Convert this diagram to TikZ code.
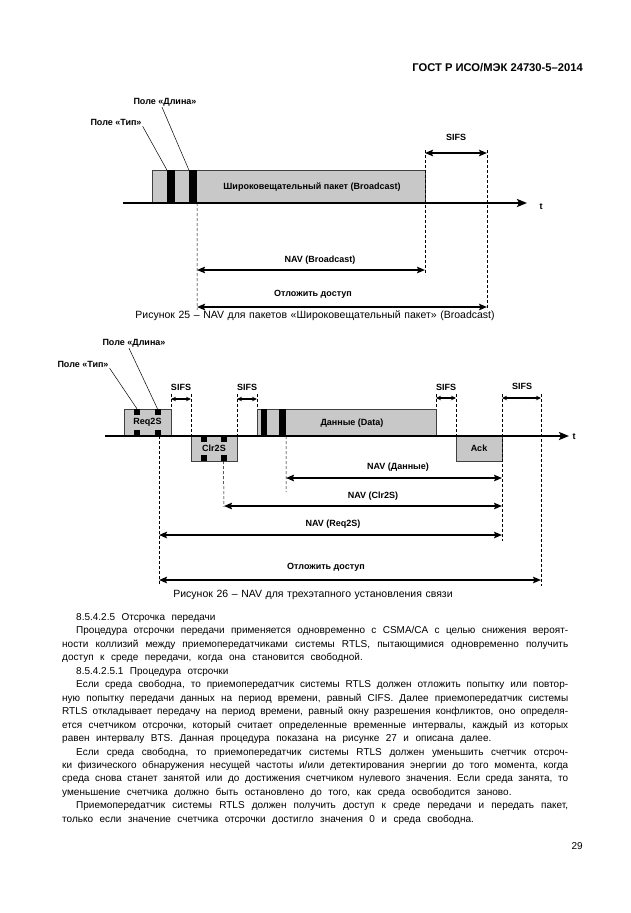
\documentclass[tikz,border=0pt]{standalone}
\usepackage{fontspec}
\setmainfont{Liberation Sans}
\usetikzlibrary{arrows.meta,positioning,calc}
\definecolor{pktgray}{RGB}{200,200,200}
\newcommand{\jline}[2]{\makebox[#1][s]{#2}}
\newcommand{\bodyfont}{\fontsize{10}{13}\selectfont\spaceskip=6.5pt plus 3pt minus 3.3pt\xspaceskip=6.5pt plus 3pt minus 3.3pt\relax}
\newcommand{\capfont}{\fontsize{10.5}{12}\selectfont\spaceskip=3.6pt plus 2pt minus 1pt\relax}

\begin{document}
\begin{tikzpicture}[x=1pt,y=-1pt,
    pkt/.style={draw=black!75, fill=pktgray, inner sep=0pt},
    fld/.style={fill=black, inner sep=0pt},
    lbl/.style={font=\bfseries\fontsize{9}{10}\selectfont, inner sep=1pt},
    axisline/.style={line width=2.2pt, -{Stealth[length=10pt,width=8pt,inset=2pt]}},
    navarrow/.style={line width=1.8pt, {Stealth[length=8pt,width=6.5pt,inset=1.5pt]}-{Stealth[length=8pt,width=6.5pt,inset=1.5pt]}},
    sifsarrow/.style={line width=1.1pt, {Stealth[length=5pt,width=4.5pt]}-{Stealth[length=5pt,width=4.5pt]}},
    guide/.style={dash pattern=on 3pt off 2pt, line width=0.5pt},
    leader/.style={line width=0.5pt},
    caption/.style={font=\capfont, inner sep=0pt},
    bodytext/.style={anchor=base west, inner sep=0pt, font=\bodyfont}]
    \fill[white] (0,0) rectangle (630,913);
    \useasboundingbox (0,0) rectangle (630,913);
    % Header
    \node[anchor=base east, inner sep=0pt, font=\bfseries\fontsize{11.2}{13}\selectfont] (hdr) at (583,71) {ГОСТ Р ИСО/МЭК 24730-5–2014};

    % Figure 25: broadcast packet
    \node[pkt, minimum width=273pt, minimum height=33pt] (bcast) at (288.5,186.5) {};
    \node[fld, minimum width=8pt, minimum height=33pt] (bc-type) at (171,186.5) {};
    \node[fld, minimum width=8pt, minimum height=33pt] (bc-len) at (193,186.5) {};
    \node[lbl] (bcast-txt) at (312,187) {Широковещательный пакет (Broadcast)};
    \coordinate (ax1-s) at (123,203);
    \coordinate (ax1-e) at (527,203);
    \draw[axisline] (ax1-s) -- (ax1-e);
    \node[lbl] (t1) at (541,207) {t};
    % Field labels
    \node[lbl] (len1) at (165,102) {Поле «Длина»};
    \node[lbl] (type1) at (116,122) {Поле «Тип»};
    \draw[leader] (type1.south east) -- (bc-type.north west);
    \draw[leader] ($(len1.south)-(3,0)$) -- (bc-len.north west);
    % Guides
    \coordinate (g1a) at (197,310);
    \coordinate (g1b-top) at (425,150);
    \coordinate (g1b) at (425,275);
    \coordinate (g1c-top) at (487,150);
    \coordinate (g1c) at (487,310);
    \draw[guide] (bc-len.south east) -- (g1a);
    \draw[guide] (g1b-top) -- (g1b);
    \draw[guide] (g1c-top) -- (g1c);
    % Intervals
    \coordinate (s1-l) at (425,153);
    \coordinate (s1-r) at (487,153);
    \draw[navarrow] (s1-l) -- (s1-r);
    \node[lbl] (sifs1) at (456,137) {SIFS};
    \coordinate (nb-l) at (197,270);
    \coordinate (nb-r) at (425,270);
    \draw[navarrow] (nb-l) -- (nb-r);
    \node[lbl] (nav-bc) at (320,260) {NAV (Broadcast)};
    \coordinate (db-l) at (197,307);
    \coordinate (db-r) at (487,307);
    \draw[navarrow] (db-l) -- (db-r);
    \node[lbl] (defer1) at (313,294) {Отложить доступ};
    \node[caption] (cap25) at (315,316) {Рисунок 25 – NAV для пакетов «Широковещательный пакет» (Broadcast)};

    % Figure 26: three-way handshake
    \node[pkt, minimum width=47pt, minimum height=27pt, font=\bfseries\fontsize{9}{10}\selectfont] (req) at (147.5,422.5) {Req2S};
    \node[pkt, minimum width=46pt, minimum height=25pt, font=\bfseries\fontsize{9}{10}\selectfont] (clr) at (214,448.5) {Clr2S};
    \node[pkt, minimum width=179pt, minimum height=27pt] (data) at (346.5,422.5) {};
    \node[pkt, minimum width=46pt, minimum height=25pt, font=\bfseries\fontsize{9}{10}\selectfont] (ack) at (479,448.5) {Ack};
    \node[lbl] (data-txt) at (352,423) {Данные (Data)};
    \foreach \sx [count=\i] in {137,157.5} {
        \node[fld, minimum size=6pt] (rq-t\i) at (\sx,412) {};
        \node[fld, minimum size=6pt] (rq-b\i) at (\sx,433) {};
    }
    \foreach \sx [count=\i] in {204,223.5} {
        \node[fld, minimum size=6pt] (cl-t\i) at (\sx,439) {};
        \node[fld, minimum size=6pt] (cl-b\i) at (\sx,458) {};
    }
    \node[fld, minimum width=6pt, minimum height=27pt] (dt-type) at (264,422.5) {};
    \node[fld, minimum width=7pt, minimum height=27pt] (dt-len) at (282.5,422.5) {};
    \coordinate (ax2-s) at (105,436);
    \coordinate (ax2-e) at (569,436);
    \draw[axisline] (ax2-s) -- (ax2-e);
    \node[lbl] (t2) at (574,437) {t};
    % Field labels
    \node[lbl] (len2) at (134,343) {Поле «Длина»};
    \node[lbl] (type2) at (83,364) {Поле «Тип»};
    \draw[leader] (type2.south east) -- (rq-t1.north);
    \draw[leader] ($(len2.south)-(5,0)$) -- (rq-t2.north);
    % Guides
    \foreach \gx/\gb [count=\i] in {171/409,191/436,237/436,257/409,436/409,456/436,502/541,541/586} {
        \coordinate (gt\i) at (\gx,394);
        \coordinate (gb\i) at (\gx,\gb);
        \draw[guide] (gt\i) -- (gb\i);
    }
    \coordinate (gq) at (159,586);
    \coordinate (gc) at (224,507);
    \coordinate (gd) at (286,492);
    \draw[guide] (rq-b2.south -| gq) -- (gq);
    \draw[guide] (cl-b2.south) -- (gc);
    \draw[guide] (dt-len.south east) -- (gd);
    % SIFS intervals
    \foreach \l/\r/\c/\sy in {171/191/181/399,237/257/247/399,436/456/446/398} {
        \coordinate (sl-\l) at (\l,\sy);
        \coordinate (sr-\l) at (\r,\sy);
        \draw[sifsarrow] (sl-\l) -- (sr-\l);
        \node[lbl] (sifs-\l) at (\c,387) {SIFS};
    }
    \coordinate (s4-l) at (502,398);
    \coordinate (s4-r) at (541,398);
    \draw[sifsarrow] (s4-l) -- (s4-r);
    \node[lbl] (sifs4) at (522,386) {SIFS};
    % NAV intervals
    \coordinate (nd-l) at (286,478);
    \coordinate (nd-r) at (502,478);
    \draw[navarrow] (nd-l) -- (nd-r);
    \node[lbl] (nav-data) at (398,467) {NAV (Данные)};
    \coordinate (nc-l) at (224,506);
    \coordinate (nc-r) at (502,506);
    \draw[navarrow] (nc-l) -- (nc-r);
    \node[lbl] (nav-clr) at (373,496) {NAV (Clr2S)};
    \coordinate (nr-l) at (159,535);
    \coordinate (nr-r) at (502,535);
    \draw[navarrow] (nr-l) -- (nr-r);
    \node[lbl] (nav-req) at (333,524) {NAV (Req2S)};
    \coordinate (dq-l) at (159,580);
    \coordinate (dq-r) at (541,580);
    \draw[navarrow] (dq-l) -- (dq-r);
    \node[lbl] (defer2) at (326,567) {Отложить доступ};
    \node[caption] (cap26) at (313,595) {Рисунок 26 – NAV для трехэтапного установления связи};

    % Body text
    \node[bodytext] (p1) at (76,620.5) {8.5.4.2.5 Отсрочка передачи};
    \node[bodytext] (p2) at (76,633.95) {\jline{492pt}{Процедура отсрочки передачи применяется одновременно с CSMA/CA с целью снижения вероят-}};
    \node[bodytext] (p3) at (62,647.4) {\jline{506pt}{ности коллизий между приемопередатчиками системы RTLS, пытающимися одновременно получить}};
    \node[bodytext] (p4) at (62,660.85) {доступ к среде передачи, когда она становится свободной.};
    \node[bodytext] (p5) at (76,674.3) {8.5.4.2.5.1 Процедура отсрочки};
    \node[bodytext] (p6) at (76,687.75) {\jline{492pt}{Если среда свободна, то приемопередатчик системы RTLS должен отложить попытку или повтор-}};
    \node[bodytext] (p7) at (62,701.2) {\jline{506pt}{ную попытку передачи данных на период времени, равный CIFS. Далее приемопередатчик системы}};
    \node[bodytext] (p8) at (62,714.65) {\jline{506pt}{RTLS откладывает передачу на период времени, равный окну разрешения конфликтов, оно определя-}};
    \node[bodytext] (p9) at (62,728.1) {\jline{506pt}{ется счетчиком отсрочки, который считает определенные временные интервалы, каждый из которых}};
    \node[bodytext] (p10) at (62,741.55) {равен интервалу BTS. Данная процедура показана на рисунке 27 и описана далее.};
    \node[bodytext] (p11) at (76,755) {\jline{492pt}{Если среда свободна, то приемопередатчик системы RTLS должен уменьшить счетчик отсроч-}};
    \node[bodytext] (p12) at (62,768.45) {\jline{506pt}{ки физического обнаружения несущей частоты и/или детектирования энергии до того момента, когда}};
    \node[bodytext] (p13) at (62,781.9) {\jline{506pt}{среда снова станет занятой или до достижения счетчиком нулевого значения. Если среда занята, то}};
    \node[bodytext] (p14) at (62,795.35) {уменьшение счетчика должно быть остановлено до того, как среда освободится заново.};
    \node[bodytext] (p15) at (76,808.8) {\jline{492pt}{Приемопередатчик системы RTLS должен получить доступ к среде передачи и передать пакет,}};
    \node[bodytext] (p16) at (62,822.25) {только если значение счетчика отсрочки достигло значения 0 и среда свободна.};
    \node[bodytext, anchor=base east] (pgno) at (583,849) {29};
\end{tikzpicture}
\end{document}
